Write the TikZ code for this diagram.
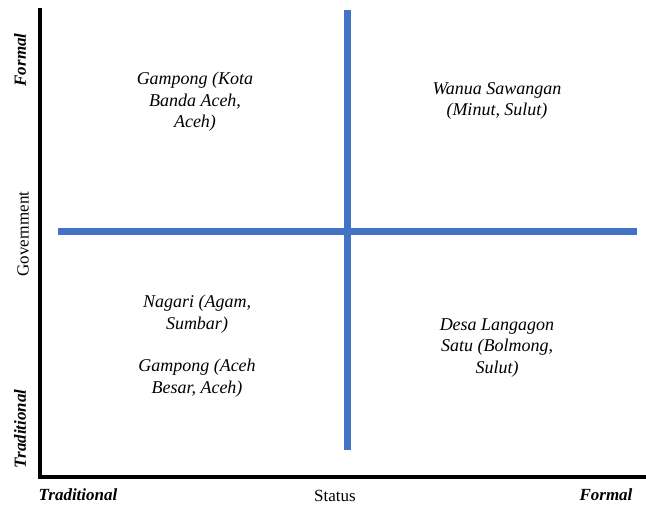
\documentclass[tikz,border=0pt]{standalone}
\usepackage{fontspec}
\setmainfont{Liberation Serif}
\usetikzlibrary{positioning}
\definecolor{quadblue}{RGB}{68,114,196}
\tikzset{
  axisline/.style={line width=4pt, line cap=rect},
  divider/.style={draw=quadblue, line width=7pt},
  poletext/.style={font=\fontsize{17}{20}\selectfont\bfseries\itshape},
  axistext/.style={font=\fontsize{17}{20}\selectfont},
  casetext/.style={font=\fontsize{18}{21.5}\selectfont\itshape, align=center, inner sep=0pt}
}

\begin{document}
\begin{tikzpicture}[x=1pt,y=1pt]
    \useasboundingbox (0,0) rectangle (646,506);
    % axes
    \coordinate (ytop) at (40,496);
    \coordinate (origin) at (40,29);
    \coordinate (xend) at (644,29);
    \draw[axisline] (ytop) -- (origin) -- (xend);
    % quadrant dividers
    \coordinate (vtop) at (347,496);
    \coordinate (vbot) at (347,56);
    \coordinate (hleft) at (58,274);
    \coordinate (hright) at (637,274);
    \draw[divider] (vtop) -- (vbot);
    \draw[divider] (hleft) -- (hright);
    % axis labels
    \node[poletext, rotate=90] (yformal) at (20,446) {Formal};
    \node[axistext, rotate=90] (ytitle) at (23,272) {Government};
    \node[poletext, rotate=90] (ytrad) at (20,77) {Traditional};
    \node[poletext] (xtrad) at (78,11) {Traditional};
    \node[axistext] (xtitle) at (335,10) {Status};
    \node[poletext] (xformal) at (606,11) {Formal};
    % cases
    \node[casetext] (kota) at (195,404) {Gampong (Kota\\Banda Aceh,\\Aceh)};
    \node[casetext] (wanua) at (497,405) {Wanua Sawangan\\(Minut, Sulut)};
    \node[casetext] (nagari) at (197,192) {Nagari (Agam,\\Sumbar)};
    \node[casetext, below=26pt of nagari] (besar) {Gampong (Aceh\\Besar, Aceh)};
    \node[casetext] (desa) at (497,158) {Desa Langagon\\Satu (Bolmong,\\Sulut)};
\end{tikzpicture}
\end{document}
